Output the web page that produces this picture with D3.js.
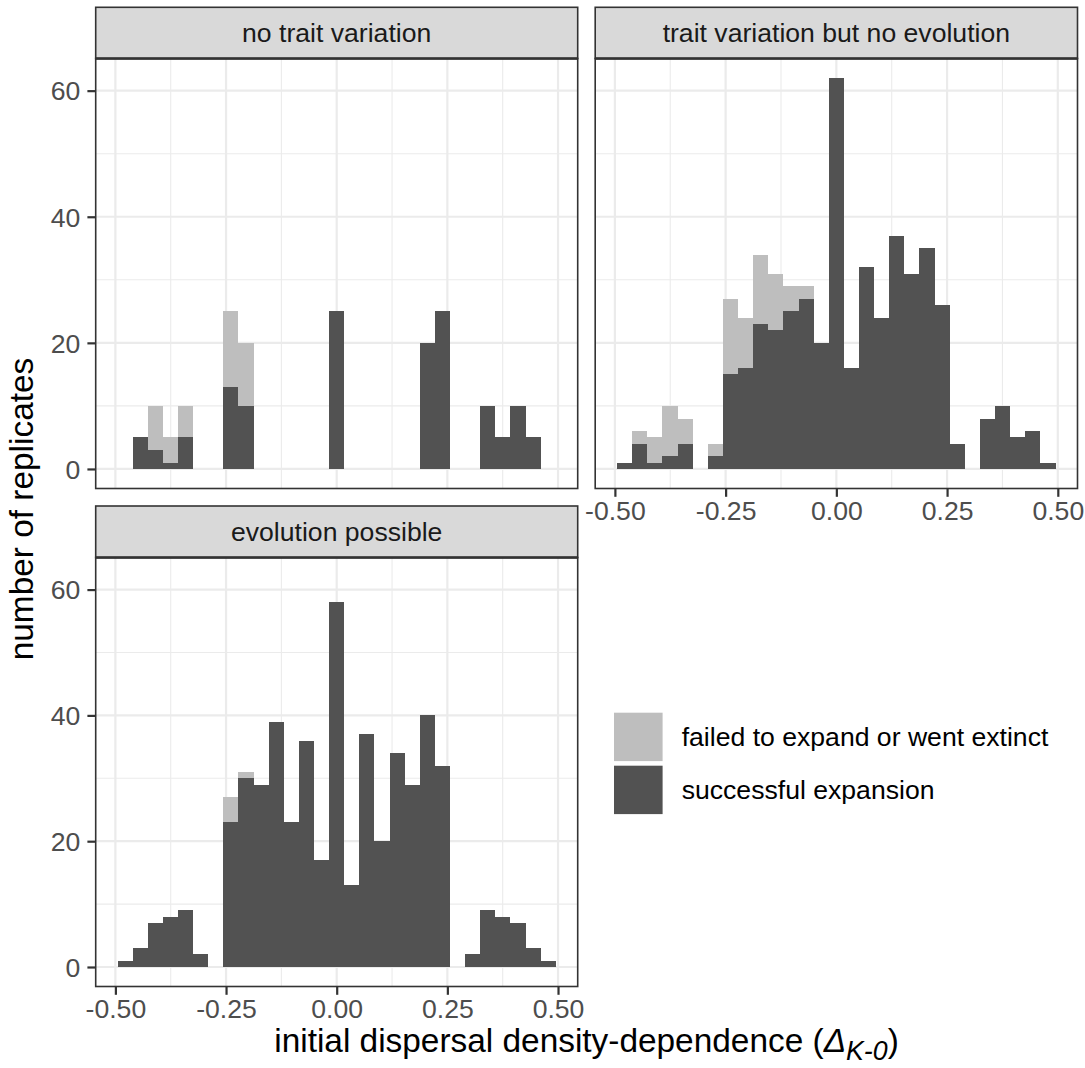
<!DOCTYPE html>
<html>
<head>
<meta charset="utf-8">
<script src="https://cdn.jsdelivr.net/npm/d3@7"></script>
<style>
  html, body { margin: 0; padding: 0; background: #ffffff; }
  svg { display: block; font-family: "Liberation Sans", Arial, sans-serif; }
</style>
</head>
<body>
<svg id="chart" width="1085" height="1068"></svg>
<script>
// ---------------- data ----------------
const panelTitles = ["no trait variation", "trait variation but no evolution", "evolution possible"];
const binCenters = [-0.4779, -0.4438, -0.4097, -0.3755, -0.3414, -0.3072, -0.2731, -0.2390, -0.2048, -0.1707,
                    -0.1366, -0.1024, -0.0683, -0.0341, 0.0000, 0.0341, 0.0683, 0.1024, 0.1366, 0.1707,
                    0.2048, 0.2390, 0.2731, 0.3072, 0.3414, 0.3755, 0.4097, 0.4438, 0.4779];
const binWidth = 0.03414;

const successNoVariation = [0, 5, 3, 1, 5, 0, 0, 13, 10, 0, 0, 0, 0, 0, 25, 0, 0, 0, 0, 0, 20, 25, 0, 0, 10, 5, 10, 5, 0];
const failedNoVariation  = [0, 0, 7, 4, 5, 0, 0, 12, 10, 0, 0, 0, 0, 0, 0, 0, 0, 0, 0, 0, 0, 0, 0, 0, 0, 0, 0, 0, 0];

const successNoEvolution = [1, 4, 1, 2, 4, 0, 2, 15, 16, 23, 22, 25, 27, 20, 62, 16, 32, 24, 37, 31, 35, 26, 4, 0, 8, 10, 5, 6, 1];
const failedNoEvolution  = [0, 2, 4, 8, 4, 0, 2, 12, 8, 11, 9, 4, 2, 0, 0, 0, 0, 0, 0, 0, 0, 0, 0, 0, 0, 0, 0, 0, 0];

const successEvolution = [1, 3, 7, 8, 9, 2, 0, 23, 30, 29, 39, 23, 36, 17, 58, 13, 37, 20, 34, 29, 40, 32, 0, 2, 9, 8, 7, 3, 1];
const failedEvolution  = [0, 0, 0, 0, 0, 0, 0, 4, 1, 0, 0, 0, 0, 0, 0, 0, 0, 0, 0, 0, 0, 0, 0, 0, 0, 0, 0, 0, 0];

const legendLabels = ["failed to expand or went extinct", "successful expansion"];
const xTicks = [-0.5, -0.25, 0, 0.25, 0.5];
const xTickLabels = ["-0.50", "-0.25", "0.00", "0.25", "0.50"];
const xMinor = [-0.375, -0.125, 0.125, 0.375];
const yTicks = [0, 20, 40, 60];
const yMinor = [10, 30, 50];

// ---------------- style ----------------
const colSuccess = "#525252";
const colFailed = "#BEBEBE";
const gridCol = "#EBEBEB";
const borderCol = "#333333";
const tickFont = 26.6;
const titleFont = 33.4;

const svg = d3.select("#chart");

const panels = [
  { title: panelTitles[0], success: successNoVariation, failed: failedNoVariation,
    x0: 95.7, x1: 577.7, stripTop: 7.3, top: 58.5, bottom: 488.5, showX: false, showY: true },
  { title: panelTitles[1], success: successNoEvolution, failed: failedNoEvolution,
    x0: 595.2, x1: 1077.5, stripTop: 7.3, top: 58.5, bottom: 488.5, showX: true, showY: false },
  { title: panelTitles[2], success: successEvolution, failed: failedEvolution,
    x0: 95.7, x1: 577.7, stripTop: 506, top: 557.5, bottom: 986.5, showX: true, showY: true }
];

const xDomain = [binCenters[0] - binWidth / 2, binCenters[binCenters.length - 1] + binWidth / 2];
const xPad = (xDomain[1] - xDomain[0]) * 0.05;
const allTotals = panels.flatMap(p => p.success.map((s, i) => s + p.failed[i]));
const yMax = d3.max(allTotals);
const yPad = yMax * 0.05;

panels.forEach(p => {
  const x = d3.scaleLinear().domain([xDomain[0] - xPad, xDomain[1] + xPad]).range([p.x0, p.x1]);
  const y = d3.scaleLinear().domain([-yPad, yMax + yPad]).range([p.bottom, p.top]);
  const g = svg.append("g");

  // background
  g.append("rect").attr("x", p.x0).attr("y", p.top).attr("width", p.x1 - p.x0).attr("height", p.bottom - p.top)
    .attr("fill", "#ffffff");

  // minor grid
  g.selectAll(".xminor").data(xMinor).enter().append("line")
    .attr("x1", d => x(d)).attr("x2", d => x(d)).attr("y1", p.top).attr("y2", p.bottom)
    .attr("stroke", gridCol).attr("stroke-width", 1.1);
  g.selectAll(".yminor").data(yMinor).enter().append("line")
    .attr("y1", d => y(d)).attr("y2", d => y(d)).attr("x1", p.x0).attr("x2", p.x1)
    .attr("stroke", gridCol).attr("stroke-width", 1.1);
  // major grid
  g.selectAll(".xmajor").data(xTicks).enter().append("line")
    .attr("x1", d => x(d)).attr("x2", d => x(d)).attr("y1", p.top).attr("y2", p.bottom)
    .attr("stroke", gridCol).attr("stroke-width", 2.2);
  g.selectAll(".ymajor").data(yTicks).enter().append("line")
    .attr("y1", d => y(d)).attr("y2", d => y(d)).attr("x1", p.x0).attr("x2", p.x1)
    .attr("stroke", gridCol).attr("stroke-width", 2.2);

  // bars (stacked: successful at bottom, failed on top)
  const rows = binCenters.map((c, i) => ({ c, s: p.success[i], f: p.failed[i] }));
  const bars = g.append("g").attr("shape-rendering", "crispEdges");
  bars.selectAll(".bf").data(rows.filter(d => d.f > 0)).enter().append("rect")
    .attr("x", d => x(d.c - binWidth / 2))
    .attr("width", d => x(d.c + binWidth / 2) - x(d.c - binWidth / 2))
    .attr("y", d => y(d.s + d.f))
    .attr("height", d => y(d.s) - y(d.s + d.f))
    .attr("fill", colFailed);
  bars.selectAll(".bs").data(rows.filter(d => d.s > 0)).enter().append("rect")
    .attr("x", d => x(d.c - binWidth / 2))
    .attr("width", d => x(d.c + binWidth / 2) - x(d.c - binWidth / 2))
    .attr("y", d => y(d.s))
    .attr("height", d => y(0) - y(d.s))
    .attr("fill", colSuccess);

  // panel border
  g.append("rect").attr("x", p.x0).attr("y", p.top).attr("width", p.x1 - p.x0).attr("height", p.bottom - p.top)
    .attr("fill", "none").attr("stroke", borderCol).attr("stroke-width", 1.6);

  // strip
  g.append("rect").attr("x", p.x0).attr("y", p.stripTop).attr("width", p.x1 - p.x0).attr("height", p.top - p.stripTop)
    .attr("fill", "#D9D9D9").attr("stroke", borderCol).attr("stroke-width", 1.6);
  g.append("line").attr("x1", p.x0).attr("x2", p.x1).attr("y1", p.top).attr("y2", p.top)
    .attr("stroke", borderCol).attr("stroke-width", 2.6);
  g.append("text").attr("x", (p.x0 + p.x1) / 2).attr("y", (p.stripTop + p.top) / 2 + 9.3)
    .attr("text-anchor", "middle").attr("font-size", tickFont).attr("fill", "#1A1A1A").text(p.title);

  // y axis
  if (p.showY) {
    const ya = g.append("g").attr("transform", `translate(${p.x0},0)`)
      .call(d3.axisLeft(y).tickValues(yTicks).tickSize(8.3).tickPadding(7).tickFormat(d3.format("d")));
    ya.select(".domain").remove();
    ya.selectAll(".tick line").attr("stroke", borderCol).attr("stroke-width", 2.2);
    ya.selectAll(".tick text").attr("font-size", tickFont).attr("fill", "#4D4D4D")
      .attr("font-family", "'Liberation Sans', Arial, sans-serif").attr("dy", "0.35em");
  }
  // x axis
  if (p.showX) {
    const xa = g.append("g").attr("transform", `translate(0,${p.bottom})`)
      .call(d3.axisBottom(x).tickValues(xTicks).tickSize(8.3).tickPadding(4)
        .tickFormat((d, i) => xTickLabels[i]));
    xa.select(".domain").remove();
    xa.selectAll(".tick line").attr("stroke", borderCol).attr("stroke-width", 2.2);
    xa.selectAll(".tick text").attr("font-size", tickFont).attr("fill", "#4D4D4D")
      .attr("font-family", "'Liberation Sans', Arial, sans-serif").attr("dy", "0.71em");
  }
});

// axis titles
svg.append("text")
  .attr("transform", "translate(33,509) rotate(-90)")
  .attr("text-anchor", "middle").attr("font-size", titleFont).attr("fill", "#000")
  .text("number of replicates");

const xt = svg.append("text")
  .attr("x", 586.5).attr("y", 1052)
  .attr("text-anchor", "middle").attr("font-size", titleFont).attr("fill", "#000");
xt.append("tspan").text("initial dispersal density-dependence (");
xt.append("tspan").attr("font-style", "italic").text("Δ");
xt.append("tspan").attr("font-style", "italic").attr("font-size", titleFont * 0.8).attr("dy", 8).text("K-0");
xt.append("tspan").attr("dy", -8).text(")");

// legend
const legendColors = [colFailed, colSuccess];
const lg = svg.append("g");
legendLabels.forEach((lab, i) => {
  const ky = 712.7 + i * 53;
  lg.append("rect").attr("x", 614).attr("y", ky).attr("width", 48.6).attr("height", 48.4).attr("fill", legendColors[i]);
  lg.append("text").attr("x", 681.7).attr("y", ky + 24.2 + 9.3).attr("font-size", tickFont).attr("fill", "#000").text(lab);
});
</script>
</body>
</html>
